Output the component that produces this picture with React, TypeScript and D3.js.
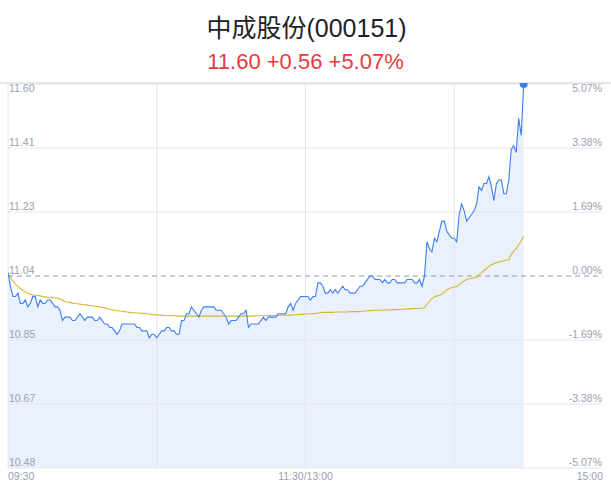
import React from "react";
import * as d3 from "d3";

const title = "中成股份(000151)";
const subtitle = "11.60 +0.56 +5.07%";
const prevClose = 11.04;
const maxDiff = 0.56;
const totalMinutes = 240;

const priceLabels = ["11.60", "11.41", "11.23", "11.04", "10.85", "10.67", "10.48"];
const pctLabels = ["5.07%", "3.38%", "1.69%", "0.00%", "-1.69%", "-3.38%", "-5.07%"];
const timeLabels = ["09:30", "11:30/13:00", "15:00"];
const timeIdx = [0, 120, 240];
const vGridIdx = [60, 120, 180];

const prices = [
  11.05, 11.01, 10.98, 10.98, 10.99, 10.96, 10.96, 10.97, 10.95, 10.96,
  10.98, 10.98, 10.95, 10.97, 10.96, 10.96, 10.97, 10.97, 10.96, 10.95,
  10.95, 10.94, 10.91, 10.92, 10.92, 10.92, 10.91, 10.91, 10.92, 10.93,
  10.92, 10.91, 10.92, 10.92, 10.92, 10.91, 10.91, 10.92, 10.91, 10.90,
  10.90, 10.89, 10.89, 10.88, 10.87, 10.88, 10.90, 10.90, 10.90, 10.90,
  10.90, 10.90, 10.89, 10.89, 10.88, 10.88, 10.88, 10.86, 10.87, 10.87,
  10.86, 10.87, 10.88, 10.88, 10.89, 10.89, 10.88, 10.88, 10.87, 10.87,
  10.91, 10.91, 10.93, 10.93, 10.95, 10.94, 10.93, 10.92, 10.94, 10.95,
  10.95, 10.95, 10.95, 10.95, 10.94, 10.94, 10.94, 10.93, 10.92, 10.90,
  10.91, 10.91, 10.91, 10.92, 10.93, 10.93, 10.94, 10.89, 10.90, 10.90,
  10.90, 10.90, 10.91, 10.92, 10.91, 10.92, 10.92, 10.92, 10.92, 10.93,
  10.93, 10.93, 10.93, 10.95, 10.96, 10.94, 10.96, 10.97, 10.98, 10.98,
  10.98, 10.98, 10.97, 10.98, 10.98, 11.02, 11.02, 11.01, 10.99, 10.99,
  11.00, 10.99, 11.00, 10.99, 11.00, 11.01, 11.00, 11.00, 10.99, 10.99,
  10.99, 11.00, 11.01, 11.01, 11.02, 11.03, 11.04, 11.04, 11.03, 11.03,
  11.03, 11.02, 11.03, 11.02, 11.02, 11.03, 11.03, 11.02, 11.02, 11.02,
  11.02, 11.03, 11.03, 11.03, 11.02, 11.02, 11.03, 11.01, 11.04, 11.14,
  11.12, 11.11, 11.15, 11.14, 11.17, 11.20, 11.20, 11.17, 11.16, 11.15,
  11.15, 11.14, 11.22, 11.25, 11.23, 11.20, 11.21, 11.22, 11.23, 11.25,
  11.30, 11.29, 11.31, 11.31, 11.33, 11.30, 11.26, 11.31, 11.32, 11.32,
  11.28, 11.28, 11.32, 11.41, 11.42, 11.40, 11.50, 11.45, 11.60,
];

const avgPrices = [
  11.046, 11.036, 11.025, 11.016, 11.010, 11.003, 10.998, 10.994, 10.990, 10.987,
  10.985, 10.984, 10.983, 10.982, 10.980, 10.979, 10.978, 10.978, 10.977, 10.976,
  10.975, 10.973, 10.969, 10.965, 10.964, 10.963, 10.961, 10.960, 10.959, 10.958,
  10.957, 10.956, 10.955, 10.954, 10.953, 10.952, 10.951, 10.950, 10.949, 10.947,
  10.945, 10.943, 10.942, 10.940, 10.939, 10.938, 10.937, 10.936, 10.935, 10.934,
  10.933, 10.933, 10.932, 10.932, 10.931, 10.931, 10.930, 10.929, 10.928, 10.927,
  10.927, 10.926, 10.926, 10.925, 10.925, 10.924, 10.924, 10.924, 10.923, 10.923,
  10.923, 10.923, 10.923, 10.923, 10.923, 10.923, 10.923, 10.923, 10.923, 10.923,
  10.923, 10.923, 10.923, 10.923, 10.923, 10.923, 10.923, 10.923, 10.923, 10.923,
  10.923, 10.923, 10.923, 10.923, 10.923, 10.923, 10.923, 10.923, 10.923, 10.923,
  10.924, 10.924, 10.924, 10.924, 10.924, 10.925, 10.925, 10.925, 10.925, 10.925,
  10.926, 10.926, 10.926, 10.926, 10.926, 10.927, 10.927, 10.927, 10.928, 10.928,
  10.929, 10.929, 10.930, 10.930, 10.931, 10.932, 10.933, 10.934, 10.934, 10.934,
  10.934, 10.934, 10.935, 10.935, 10.935, 10.935, 10.935, 10.935, 10.936, 10.936,
  10.936, 10.936, 10.936, 10.937, 10.938, 10.939, 10.939, 10.939, 10.940, 10.940,
  10.940, 10.940, 10.941, 10.941, 10.941, 10.942, 10.942, 10.942, 10.943, 10.943,
  10.943, 10.944, 10.944, 10.944, 10.945, 10.945, 10.946, 10.946, 10.948, 10.957,
  10.967, 10.974, 10.979, 10.982, 10.984, 10.987, 10.993, 10.999, 11.004, 11.006,
  11.008, 11.009, 11.014, 11.020, 11.026, 11.030, 11.032, 11.033, 11.035, 11.036,
  11.043, 11.050, 11.056, 11.062, 11.068, 11.073, 11.076, 11.079, 11.081, 11.083,
  11.084, 11.086, 11.088, 11.104, 11.112, 11.120, 11.131, 11.142, 11.155,
];

const W = 611;
const H = 492;
const L = 8;
const R = 603;
const T = 84;
const B = 468;

const labelFont = "'Liberation Sans', 'Noto Sans CJK SC', sans-serif";

export default function App() {
  const x = d3.scaleLinear().domain([0, totalMinutes]).range([L, R]);
  const y = d3.scaleLinear().domain([prevClose - maxDiff, prevClose + maxDiff]).range([B, T]);
  const levels = d3.range(3, -4, -1).map((k) => prevClose + (k * maxDiff) / 3);

  const line = d3.line<number>().x((_, i) => x(i)).y((d) => y(d));
  const area = d3.area<number>().x((_, i) => x(i)).y0(B).y1((d) => y(d));

  const last = prices.length - 1;

  return (
    <svg
      width={W}
      height={H}
      style={{ position: "absolute", left: 0, top: 0, background: "#fff" }}
      xmlns="http://www.w3.org/2000/svg"
    >
      <defs>
        <clipPath id="plotClip">
          <rect x={L} y={T - 1} width={R - L} height={B - T + 1} />
        </clipPath>
      </defs>
      <text
        x={W / 2 + 1}
        y={37}
        textAnchor="middle"
        fontSize={25}
        fill="#1d2129"
        fontFamily={labelFont}
      >
        {title}
      </text>
      <text
        x={W / 2}
        y={69}
        textAnchor="middle"
        fontSize={22}
        fill="#e83a3f"
        fontFamily={labelFont}
      >
        {subtitle}
      </text>

      <path d={area(prices) || ""} fill="#eaf1fc" />

      {levels.map((v, i) =>
        i === 3 ? null : (
          <line key={"h" + i} x1={L} x2={R} y1={y(v)} y2={y(v)} stroke="#e4e6ec" strokeWidth={1} />
        )
      )}
      {vGridIdx.map((m) => (
        <line key={"v" + m} x1={x(m)} x2={x(m)} y1={T} y2={B} stroke="#e1e4ec" strokeWidth={1} />
      ))}
      <line x1={L} x2={L} y1={T} y2={B} stroke="#e4e6ec" strokeWidth={1} />
      <line x1={0} x2={W} y1={83} y2={83} stroke="#e6e6eb" strokeWidth={2} />

      <line
        x1={L}
        x2={R}
        y1={y(prevClose)}
        y2={y(prevClose)}
        stroke="#8c9ab4"
        strokeWidth={1}
        strokeDasharray="5,4"
      />

      <g clipPath="url(#plotClip)">
        <path d={line(avgPrices) || ""} fill="none" stroke="#d5b72f" strokeWidth={1.1} />
        <path d={line(prices) || ""} fill="none" stroke="#3b7ff2" strokeWidth={1.1} />
        <circle cx={x(last)} cy={y(prices[last])} r={4} fill="#3b7ff2" />
      </g>

      {priceLabels.map((t, i) => (
        <text
          key={"l" + i}
          x={L + 1}
          y={i === 0 ? y(levels[i]) + 8 : y(levels[i]) - 2}
          fontSize={10.5}
          fill="#9aa1b1"
          fontFamily={labelFont}
        >
          {t}
        </text>
      ))}
      {pctLabels.map((t, i) => (
        <text
          key={"r" + i}
          x={R - 1}
          y={i === 0 ? y(levels[i]) + 8 : y(levels[i]) - 2}
          textAnchor="end"
          fontSize={10.5}
          fill="#9aa1b1"
          fontFamily={labelFont}
        >
          {t}
        </text>
      ))}
      {timeLabels.map((t, i) => (
        <text
          key={"t" + i}
          x={x(timeIdx[i])}
          y={480}
          textAnchor={i === 0 ? "start" : i === 1 ? "middle" : "end"}
          fontSize={10.5}
          fill="#9aa1b1"
          fontFamily={labelFont}
        >
          {t}
        </text>
      ))}
    </svg>
  );
}
